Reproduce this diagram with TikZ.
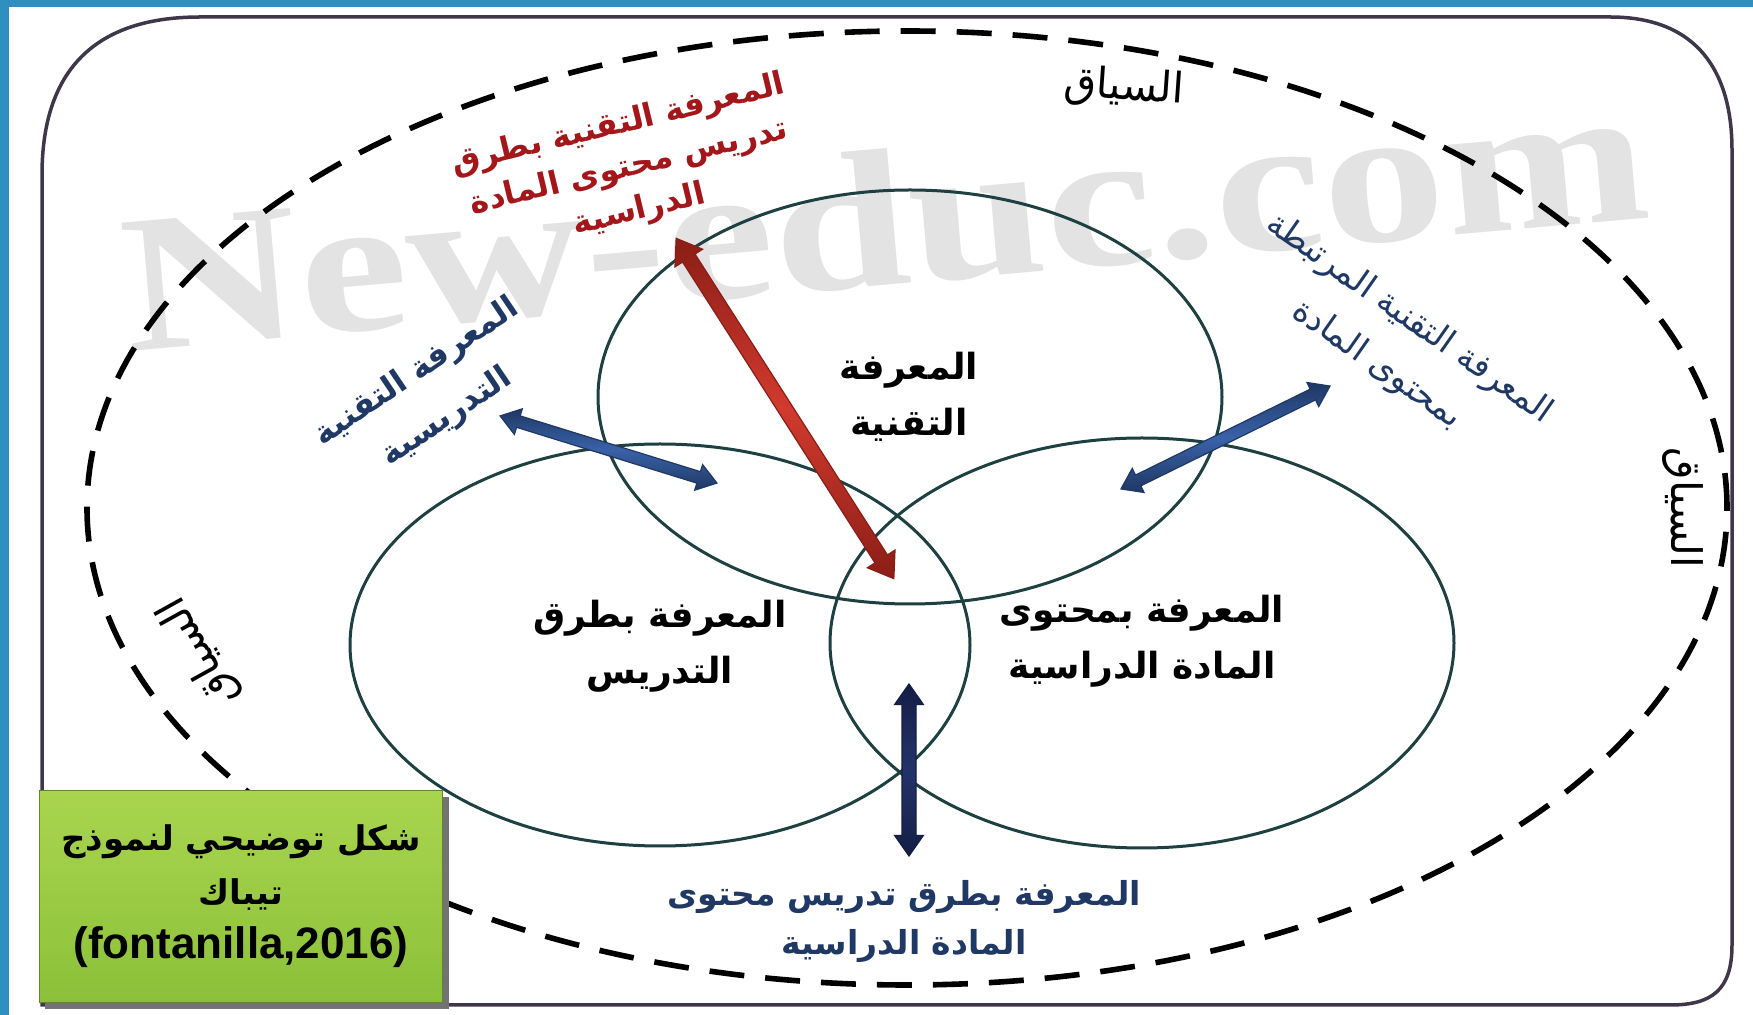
\documentclass[tikz,border=0pt]{standalone}
\usepackage{fontspec}
\usetikzlibrary{shapes.geometric,shapes.arrows}
\TeXXeTstate=1
\newfontfamily\arfont[Script=Arabic]{DejaVu Sans}
\newfontfamily\latfont{Liberation Sans}
\newfontfamily\wmfont{Liberation Serif}
\newcommand\AR[1]{\beginR #1\endR}
\definecolor{frameC}{HTML}{3E3749}
\definecolor{ringC}{HTML}{1E4040}
\definecolor{redA}{HTML}{D23A2E}
\definecolor{redD}{HTML}{8A1E16}
\definecolor{blueA}{HTML}{3A62A8}
\definecolor{blueD}{HTML}{1F3864}
\definecolor{navyA}{HTML}{23336A}
\definecolor{navyD}{HTML}{141E44}
\definecolor{redT}{HTML}{A3161A}
\definecolor{blueT}{HTML}{1F3864}
\definecolor{bandC}{HTML}{2E8FC0}
\definecolor{greenT}{HTML}{A9D54E}
\definecolor{greenB}{HTML}{8CC03A}
\begin{document}
\begin{tikzpicture}[x=0.5pt,y=-0.5pt,
  ring/.style={ellipse, draw=ringC, line width=1.5pt, inner sep=0pt},
  ctxring/.style={ellipse, draw=black, line width=2.8pt, dash pattern=on 17.5pt off 10.5pt, inner sep=0pt},
  mainlbl/.style={align=center, inner sep=0pt, font=\fontsize{18}{28}\arfont\bfseries},
  ctxlbl/.style={inner sep=0pt, font=\fontsize{21}{24}\arfont},
  dblarrow/.style={double arrow, inner xsep=0pt, line width=0.6pt},
  frameline/.style={draw=frameC, line width=1.75pt}
]
\useasboundingbox (0,0) rectangle (1753,1015);
\fill[white] (0,0) rectangle (1753,1015);
\fill[bandC] (0,0) rectangle (9,1015);
\fill[bandC] (0,0) rectangle (1753,7);

% watermark
\node[text=black!11, inner sep=0pt, rotate=5, xscale=1.25, font=\fontsize{98}{98}\wmfont\bfseries] (wm) at (885,218) {New-educ.com};

% frame
\draw[frameline] (42,1005) -- (42,175) .. controls (42,70) and (95,17) .. (200,17) -- (1610,17) .. controls (1700,17) and (1732,75) .. (1732,150) -- (1732,945) .. controls (1732,990) and (1712,1005) .. (1670,1005) -- cycle;

% context ellipse
\node[ctxring, minimum width=820pt, minimum height=477pt] (context) at (907,508) {};

% three rings
\node[ring, minimum width=312pt, minimum height=207pt] (tech) at (910,397) {};
\node[ring, minimum width=310pt, minimum height=201pt] (ped) at (660,645) {};
\node[ring, minimum width=312pt, minimum height=205pt] (cont) at (1142,643) {};

% arrows
\node[dblarrow, draw=redD, top color=redD, bottom color=redD, middle color=redA, inner ysep=3.4pt, double arrow head extend=4.5pt, double arrow tip angle=70, minimum height=202pt, rotate=-57.4] (tpck) at (785,408.5) {};
\node[dblarrow, draw=blueD, top color=blueD, bottom color=blueD, middle color=blueA, inner ysep=2.7pt, double arrow head extend=3.7pt, double arrow tip angle=70, minimum height=113.5pt, rotate=-17.2] (tpk) at (608.5,449.5) {};
\node[dblarrow, draw=blueD, top color=blueD, bottom color=blueD, middle color=blueA, inner ysep=2.7pt, double arrow head extend=3.7pt, double arrow tip angle=70, minimum height=116.5pt, rotate=26.2] (tck) at (1225.5,437.5) {};
\node[dblarrow, draw=navyD, top color=navyD, bottom color=navyD, middle color=navyA, inner ysep=3.2pt, double arrow head extend=3.7pt, double arrow tip angle=70, minimum height=86pt, rotate=90] (pck) at (909,770) {};

% main labels
\node[mainlbl] (techlbl) at (909,397) {\AR{المعرفة}\\\AR{التقنية}};
\node[mainlbl] (pedlbl) at (660,646) {\AR{المعرفة بطرق}\\\AR{التدريس}};
\node[mainlbl] (contlbl) at (1142,641) {\AR{المعرفة بمحتوى}\\\AR{المادة الدراسية}};

% intersection labels
\node[align=center, inner sep=0pt, text=redT, rotate=13.5, font=\fontsize{16}{22}\arfont\bfseries] (tpcklbl) at (629,168) {\AR{المعرفة التقنية بطرق}\\\AR{تدريس محتوى المادة}\\\AR{الدراسية}};
\node[align=center, inner sep=0pt, text=blueT, rotate=34, font=\fontsize{16}{27}\arfont\bfseries] (tpklbl) at (432,395) {\AR{المعرفة التقنية}\\\AR{التدريسية}};
\node[align=center, inner sep=0pt, text=blueT, rotate=-35, font=\fontsize{17}{28}\arfont] (tcklbl) at (1393,342) {\AR{المعرفة التقنية المرتبطة}\\\AR{بمحتوى المادة}};
\node[align=center, inner sep=0pt, text=blueT, font=\fontsize{16.5}{24.5}\arfont\bfseries] (pcklbl) at (904,921) {\AR{المعرفة بطرق تدريس محتوى}\\\AR{المادة الدراسية}};

% context labels
\node[ctxlbl, rotate=-4] (ctxtop) at (1124,88) {\AR{السياق}};
\node[ctxlbl, rotate=-90] (ctxright) at (1683,508) {\AR{السياق}};
\node[ctxlbl, rotate=119] (ctxleft) at (199,652) {\AR{السياق}};

% caption box
\fill[black!55] (45,797) rectangle (449,1009);
\node[draw=greenB!70!black, line width=0.5pt, top color=greenT, bottom color=greenB, minimum width=201.5pt, minimum height=106pt, inner sep=0pt, align=center, font=\fontsize{17}{27}\arfont\bfseries] (caption) at (241,896.5) {\AR{شكل توضيحي لنموذج}\\\AR{تيباك}\\{\fontsize{22}{27}\latfont\bfseries (fontanilla,2016)}};
\end{tikzpicture}
\end{document}
